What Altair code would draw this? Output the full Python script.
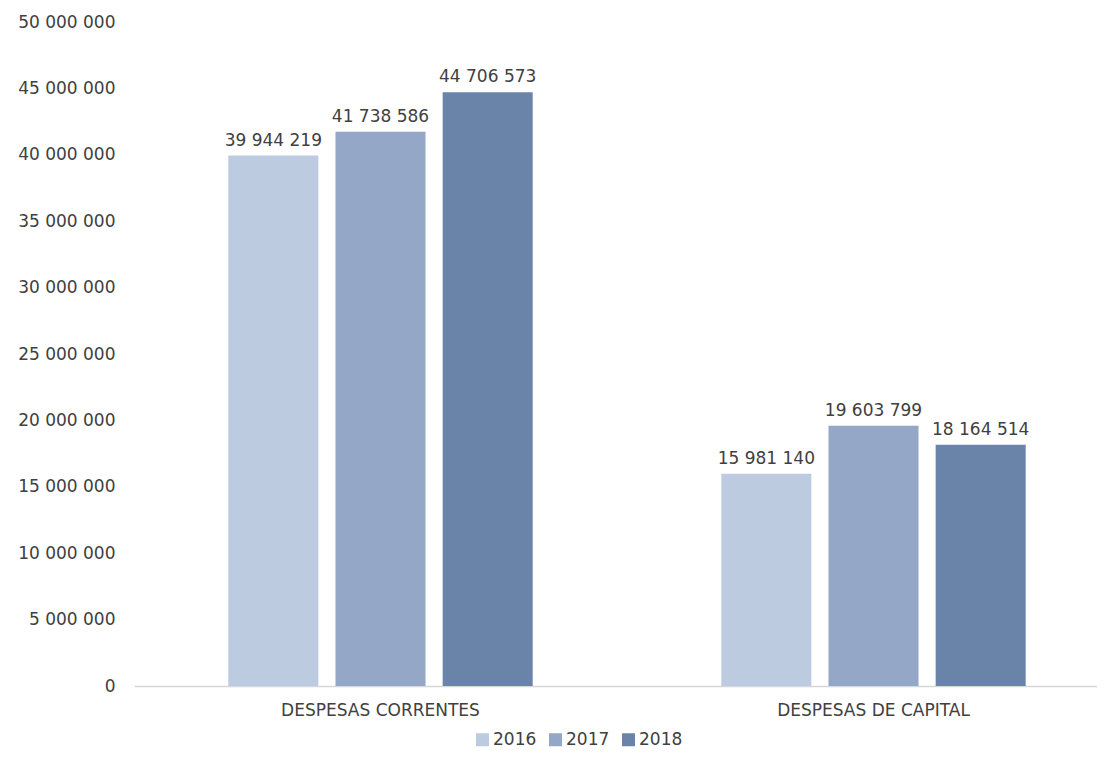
import altair as alt
import pandas as pd

categories = ["DESPESAS CORRENTES", "DESPESAS DE CAPITAL"]
years = ["2016", "2017", "2018"]
values_2016 = [39944219, 15981140]
values_2017 = [41738586, 19603799]
values_2018 = [44706573, 18164514]
colors = ["#bccbe0", "#94a7c6", "#6a83a8"]
y_ticks = [0, 5000000, 10000000, 15000000, 20000000, 25000000, 30000000,
           35000000, 40000000, 45000000, 50000000]

rows = []
for yr, vals in zip(years, [values_2016, values_2017, values_2018]):
    for c, v in zip(categories, vals):
        rows.append({"categoria": c, "ano": yr, "valor": v})
df = pd.DataFrame(rows)

FONT = "DejaVu Sans"
TXT = "#404040"

base = alt.Chart(df).encode(
    x=alt.X("categoria:N", sort=categories,
            scale=alt.Scale(range=[4, 990], paddingInner=0, paddingOuter=0),
            axis=alt.Axis(title=None, labelAngle=0, labelFontSize=17, labelFont=FONT,
                          labelColor=TXT, ticks=False, domainColor="#d6d6d6",
                          domainWidth=1.5, labelPadding=16, labelLimit=0)),
    xOffset=alt.XOffset("ano:N", sort=years,
                        scale=alt.Scale(paddingInner=0.16, paddingOuter=0.88)),
    y=alt.Y("valor:Q", scale=alt.Scale(domain=[0, 50000000], nice=False),
            axis=alt.Axis(title=None, values=y_ticks, grid=False, domain=False, ticks=False,
                          labelFontSize=17, labelFont=FONT, labelColor=TXT, labelPadding=15,
                          labelLimit=0,
                          labelExpr="replace(format(datum.value, ','), regexp(',', 'g'), ' ')")),
)

bars = base.mark_bar().encode(
    color=alt.Color("ano:N", sort=years,
                    scale=alt.Scale(domain=years, range=colors),
                    legend=alt.Legend(title=None, orient="none", direction="horizontal",
                                      legendX=344, legendY=709, symbolType="square",
                                      symbolSize=169, symbolStrokeWidth=0,
                                      labelFontSize=17, labelFont=FONT, labelColor=TXT,
                                      labelOffset=2, columnPadding=10, labelLimit=0)),
)

labels = base.transform_calculate(
    lbl="replace(format(datum.valor, ','), regexp(',', 'g'), ' ')"
).mark_text(dy=-6, baseline="bottom", fontSize=17, font=FONT, color=TXT).encode(
    text="lbl:N"
)

chart = alt.layer(bars, labels).properties(
    width=967, height=664,
    autosize=alt.AutoSizeParams(type="none"),
    padding={"left": 122, "top": 14, "right": 0, "bottom": 65},
).configure(background="white").configure_view(stroke=None)

chart.save("out.html", embed_options={"renderer": "svg", "actions": False})
